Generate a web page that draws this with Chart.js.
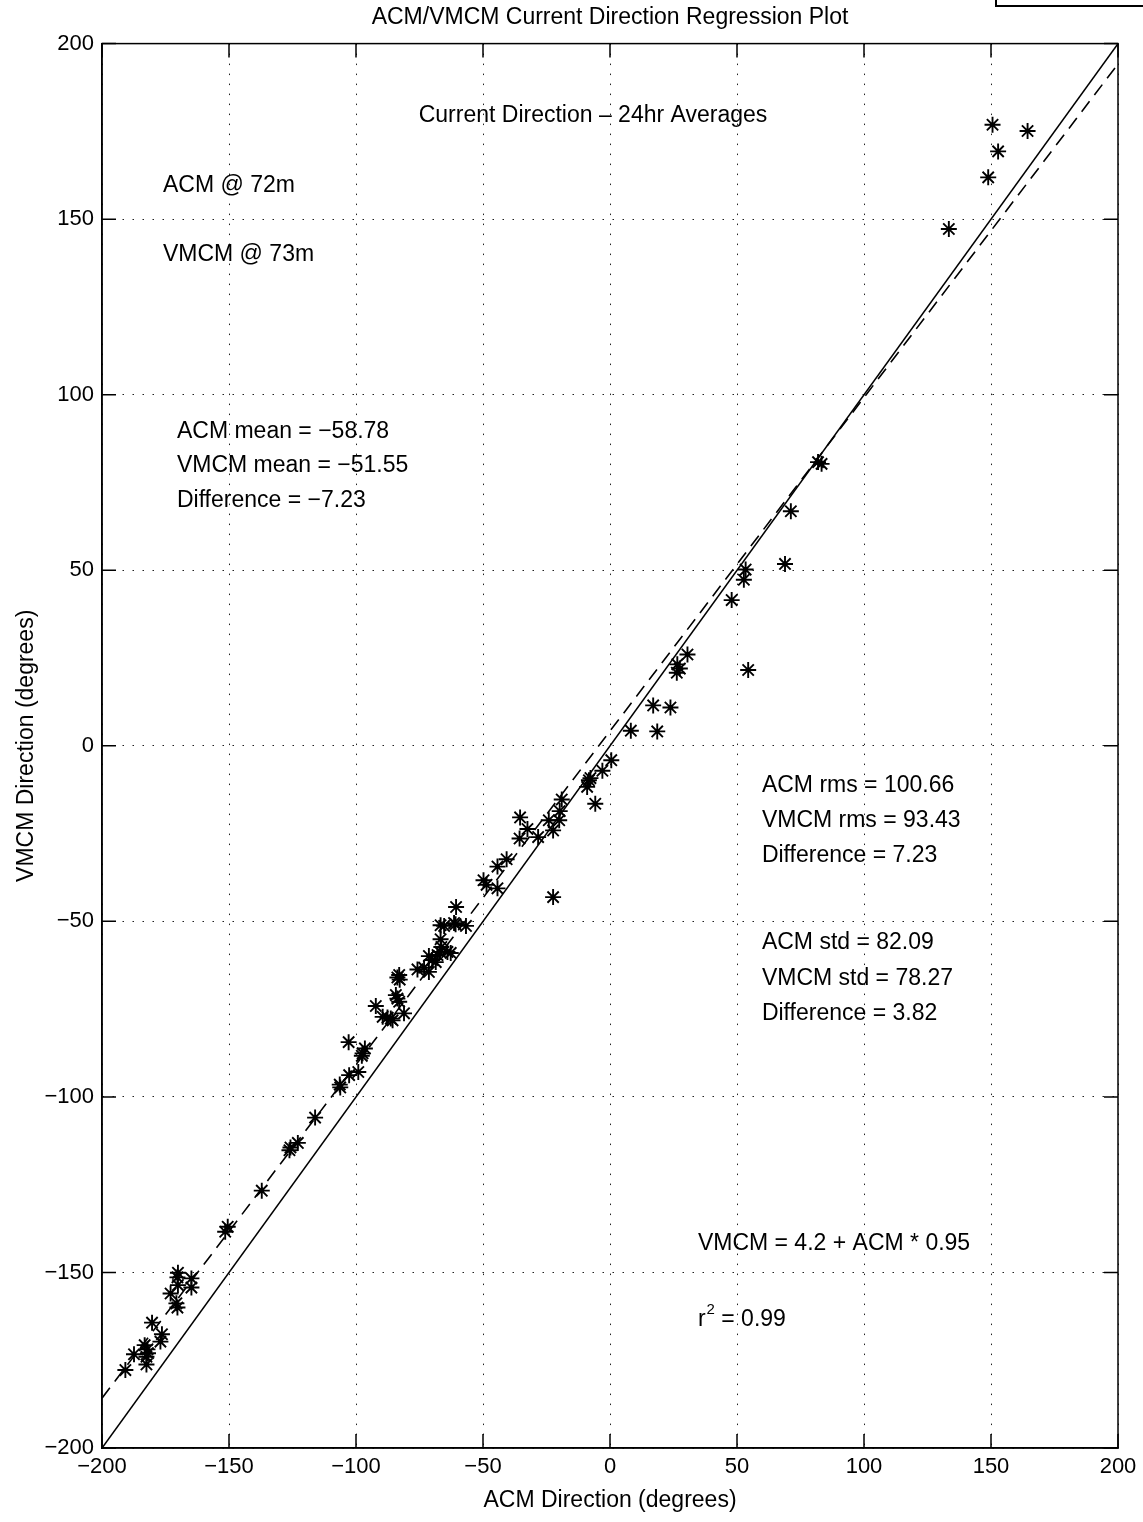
<!DOCTYPE html>
<html>
<head>
<meta charset="utf-8">
<title>ACM/VMCM Current Direction Regression Plot</title>
<script src="https://cdn.jsdelivr.net/npm/chart.js@4.4.1/dist/chart.umd.min.js"></script>
<style>
    body { margin: 0; background: #fff; }
    #wrap { position: relative; width: 1143px; height: 1522px; overflow: hidden; }
    #corner { position: absolute; left: 995px; top: -10px; width: 170px; height: 13px; border: 2px solid #000; }
</style>
</head>
<body>
<div id="wrap">
    <canvas id="regressionChart" width="1143" height="1522"></canvas>
    <div id="corner"></div>
</div>
<script>
// values (degrees)
const acmDirection = [
    150.6, 164.4, 152.8, 148.9, 133.4, 81.9, 83.3, 71.2, 68.9, 53.4,
    52.7, 47.9, 54.4, 30.5, 26.5, 27.5, 26.3, 17.0, 23.8, 8.2,
    18.6, 0.5, -3.0, -7.7, -8.3, -9.0, -5.8, -19.0, -19.8, -20.0,
    -24.1, -22.4, -35.4, -32.5, -35.6, -28.3, -40.7, -44.3, -49.8, -48.6,
    -44.3, -22.4, -60.6, -66.7, -65.3, -61.4, -60.8, -56.7, -66.7, -66.4,
    -66.9, -67.9, -64.0, -62.7, -71.3, -70.0, -68.6, -75.8, -73.2, -71.3,
    -83.0, -83.7, -82.8, -84.3, -83.7, -83.0, -81.1, -92.2, -89.5, -87.6,
    -86.3, -85.6, -102.9, -96.5, -97.4, -97.7, -102.7, -99.1, -106.4, -106.2,
    -116.1, -125.8, -122.9, -126.2, -137.1, -150.5, -151.5, -170.1, -170.3, -164.8,
    -170.1, -164.8, -173.0, -170.7, -170.3, -180.3, -176.4, -177.0, -183.2, -182.1,
    -181.9, -182.5, -182.5, -187.4, -190.8
];
const vmcmDirection = [
    176.9, 175.1, 169.3, 161.9, 147.2, 80.8, 80.3, 66.8, 51.8, 50.2,
    47.3, 41.5, 21.6, 26.0, 23.2, 22.0, 20.8, 11.5, 10.9, 4.3,
    4.1, -4.1, -7.1, -9.2, -9.8, -11.7, -16.5, -15.3, -18.6, -21.2,
    -21.2, -24.1, -20.4, -23.7, -26.4, -26.0, -32.3, -34.4, -38.3, -39.6,
    -40.6, -43.1, -45.9, -51.1, -51.3, -50.5, -50.8, -51.3, -55.1, -57.3,
    -58.7, -59.6, -58.7, -59.0, -59.9, -61.0, -61.6, -63.7, -63.2, -64.4,
    -65.3, -66.0, -66.6, -71.0, -72.0, -72.9, -76.2, -74.1, -77.2, -77.4,
    -77.7, -78.2, -84.4, -86.2, -87.6, -88.3, -93.8, -92.9, -96.5, -97.3,
    -105.9, -114.4, -113.1, -115.2, -126.7, -137.0, -138.4, -150.1, -151.4, -151.7,
    -153.6, -154.3, -156.0, -158.8, -160.0, -164.3, -167.6, -169.7, -170.7, -171.9,
    -173.0, -174.0, -176.2, -173.3, -177.8
];

// line end points: 1:1 line and the fit VMCM = 4.2 + ACM * 0.95
const lineEndsAcm = [-200, 200];
const oneToOneVmcm = [-200, 200];
const fitVmcm = [-185.8, 194.2];

const tickValues = [-200, -150, -100, -50, 0, 50, 100, 150, 200];

const FONT = '"Liberation Sans", Arial, Helvetica, sans-serif';

// text placed in data coordinates
const notes = [
    { text: 'Current Direction \u2013 24hr Averages', x: -6.7, y: 179.5, align: 'center' },
    { text: 'ACM @ 72m', x: -176, y: 159.5 },
    { text: 'VMCM @ 73m', x: -176, y: 139.9 },
    { text: 'ACM mean = \u221258.78', x: -170.5, y: 89.5 },
    { text: 'VMCM mean = \u221251.55', x: -170.5, y: 79.8 },
    { text: 'Difference = \u22127.23', x: -170.5, y: 69.8 },
    { text: 'ACM rms = 100.66', x: 59.8, y: -11.4 },
    { text: 'VMCM rms = 93.43', x: 59.8, y: -21.4 },
    { text: 'Difference = 7.23', x: 59.8, y: -31.3 },
    { text: 'ACM std = 82.09', x: 59.8, y: -56.1 },
    { text: 'VMCM std = 78.27', x: 59.8, y: -66.4 },
    { text: 'Difference = 3.82', x: 59.8, y: -76.4 },
    { text: 'VMCM = 4.2 + ACM * 0.95', x: 34.6, y: -141.9 },
    { text: 'r', sup: '2', rest: ' = 0.99', x: 34.6, y: -163.5 }
];

const minus = v => String(v).replace('-', '\u2212');

const framePlugin = {
    id: 'matlabFrame',
    afterDraw(chart) {
        const { ctx, chartArea: a, scales: { x, y } } = chart;
        ctx.save();
        ctx.strokeStyle = '#000';
        ctx.lineWidth = 1.5;
        ctx.strokeRect(a.left, a.top, a.right - a.left, a.bottom - a.top);
        // inward ticks on all four sides
        ctx.beginPath();
        x.ticks.forEach(t => {
            const px = x.getPixelForValue(t.value);
            ctx.moveTo(px, a.bottom); ctx.lineTo(px, a.bottom - 14);
            ctx.moveTo(px, a.top); ctx.lineTo(px, a.top + 14);
        });
        y.ticks.forEach(t => {
            const py = y.getPixelForValue(t.value);
            ctx.moveTo(a.left, py); ctx.lineTo(a.left + 14, py);
            ctx.moveTo(a.right, py); ctx.lineTo(a.right - 14, py);
        });
        ctx.stroke();

        ctx.fillStyle = '#000';
        ctx.textBaseline = 'middle';
        notes.forEach(n => {
            const px = x.getPixelForValue(n.x);
            const py = y.getPixelForValue(n.y);
            ctx.font = '23px ' + FONT;
            ctx.textAlign = n.align || 'left';
            ctx.fillText(n.text, px, py);
            if (n.sup) {
                ctx.textAlign = 'left';
                let w = ctx.measureText(n.text).width;
                ctx.font = '15px ' + FONT;
                ctx.fillText(n.sup, px + w + 1, py - 10);
                w += ctx.measureText(n.sup).width + 1;
                ctx.font = '23px ' + FONT;
                ctx.fillText(n.rest, px + w, py);
            }
        });
        ctx.restore();
    }
};

const scatterPoints = acmDirection.map((v, i) => ({ x: v, y: vmcmDirection[i] }));

new Chart(document.getElementById('regressionChart').getContext('2d'), {
    type: 'scatter',
    data: {
        datasets: [
            {
                label: '24hr averages',
                data: scatterPoints,
                pointStyle: 'star',
                pointRadius: 8,
                borderColor: '#000',
                borderWidth: 1.9
            },
            {
                type: 'line',
                label: '1:1',
                data: lineEndsAcm.map((v, i) => ({ x: v, y: oneToOneVmcm[i] })),
                borderColor: '#000',
                borderWidth: 1.6,
                pointRadius: 0
            },
            {
                type: 'line',
                label: 'fit',
                data: lineEndsAcm.map((v, i) => ({ x: v, y: fitVmcm[i] })),
                borderColor: '#000',
                borderWidth: 1.6,
                borderDash: [13, 8],
                pointRadius: 0
            }
        ]
    },
    options: {
        responsive: false,
        animation: false,
        layout: { padding: { right: 25 } },
        plugins: {
            legend: { display: false },
            tooltip: { enabled: false },
            title: {
                display: true,
                fullSize: false,
                text: 'ACM/VMCM Current Direction Regression Plot',
                color: '#000',
                font: { family: FONT, size: 23, weight: 'normal' },
                padding: { top: 4, bottom: 12 }
            }
        },
        scales: {
            x: {
                type: 'linear',
                min: -200,
                max: 200,
                afterBuildTicks: s => { s.ticks = tickValues.map(v => ({ value: v })); },
                afterFit: s => { s.height = 74; },
                ticks: { color: '#000', font: { family: FONT, size: 22 }, padding: 6, callback: minus },
                grid: { color: '#222', lineWidth: 1, drawTicks: false },
                border: { color: '#000', width: 1.5, dash: [1.5, 8.5] },
                title: {
                    display: true,
                    text: 'ACM Direction (degrees)',
                    color: '#000',
                    font: { family: FONT, size: 23 },
                    padding: { top: 0, bottom: 8 }
                }
            },
            y: {
                type: 'linear',
                min: -200,
                max: 200,
                afterBuildTicks: s => { s.ticks = tickValues.map(v => ({ value: v })); },
                afterFit: s => { s.width = 102; },
                ticks: { color: '#000', font: { family: FONT, size: 22 }, padding: 8, callback: minus },
                grid: { color: '#222', lineWidth: 1, drawTicks: false },
                border: { color: '#000', width: 1.5, dash: [1.5, 8.5] },
                title: {
                    display: true,
                    text: 'VMCM Direction (degrees)',
                    color: '#000',
                    font: { family: FONT, size: 23 },
                    padding: { top: 13, bottom: 0 }
                }
            }
        }
    },
    plugins: [framePlugin]
});
</script>
</body>
</html>
